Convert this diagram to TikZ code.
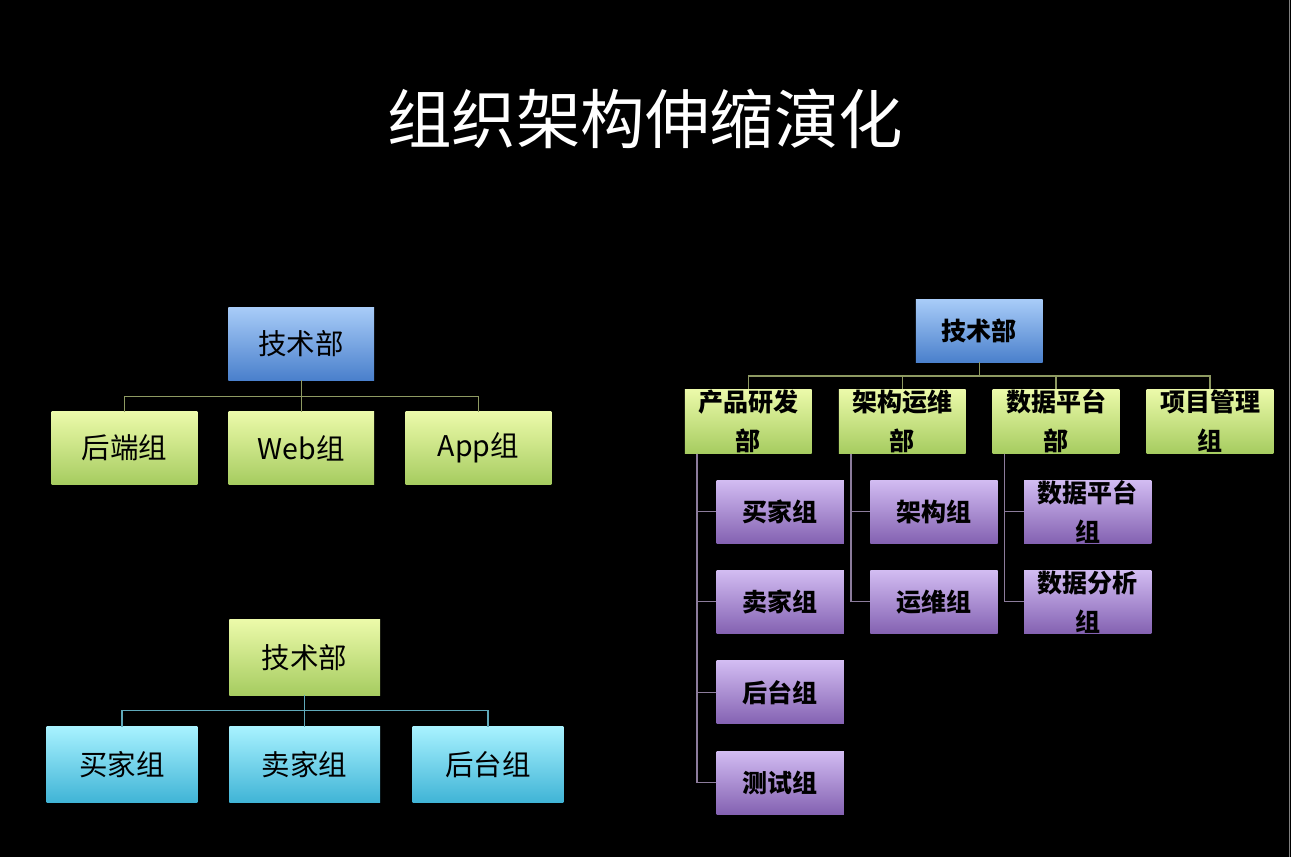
\documentclass[tikz,border=0pt]{standalone}
\usepackage{fontspec}
\setmainfont{Noto Sans CJK SC}
\definecolor{bluetop}{HTML}{A8CCF8}
\definecolor{bluebot}{HTML}{4A80CC}
\definecolor{greentop}{HTML}{ECFAAA}
\definecolor{greenbot}{HTML}{A6CC60}
\definecolor{cyantop}{HTML}{A8F2FF}
\definecolor{cyanbot}{HTML}{40B4D6}
\definecolor{purptop}{HTML}{D2BCF2}
\definecolor{purpbot}{HTML}{8462B2}
\definecolor{oliveline}{HTML}{8E9A62}
\definecolor{tealline}{HTML}{5FA9BA}
\definecolor{purpline}{HTML}{8C7C9C}
\begin{document}
\begin{tikzpicture}[x=1pt,y=-1pt,
  box/.style={rectangle, inner sep=0pt, align=center, text=black},
  blueb/.style={box, top color=bluetop, bottom color=bluebot},
  greenb/.style={box, top color=greentop, bottom color=greenbot},
  cyanb/.style={box, top color=cyantop, bottom color=cyanbot},
  purpb/.style={box, top color=purptop, bottom color=purpbot},
  lsz/.style={font=\fontsize{28.5}{34}\selectfont},
  rsz/.style={font=\bfseries\fontsize{25}{39}\selectfont},
  lbox/.style={minimum width=145.6pt, minimum height=72.6pt},
  llbox/.style={minimum width=150.6pt, minimum height=75.6pt},
  rbox/.style={minimum width=126.7pt, minimum height=64pt},
  pbox/.style={minimum width=127.3pt, minimum height=63pt},
  oline/.style={draw=oliveline, line width=1.3pt},
  tline/.style={draw=tealline, line width=1.3pt},
  pline/.style={draw=purpline, line width=1.3pt}
]
\fill[black] (0,0) rectangle (1291,857);
\useasboundingbox (0,0) rectangle (1291,857);
\draw[draw=gray, line width=1.5pt] (1289.5,0) -- (1289.5,857);

% title
\node[text=white, font=\fontsize{64.5}{70}\selectfont, inner sep=0pt] (title) at (645,119) {组织架构伸缩演化};

% top-left chart
\coordinate (tlbus) at (0,396.7);
\node[blueb, lsz, lbox] (tl0) at (301.2,343.7) {技术部};
\node[greenb, lsz, lbox] (tl1) at (124.5,448) {后端组};
\node[greenb, lsz, lbox] (tl2) at (301.3,448) {Web组};
\node[greenb, lsz, lbox] (tl3) at (478.5,448) {App组};
\foreach \c in {tl1,tl2,tl3}
  \draw[oline] (tl0.south) -- (tl0.south |- tlbus) -| (\c.north);

% bottom-left chart
\coordinate (blbus) at (0,710.7);
\node[greenb, lsz, llbox] (bl0) at (304.7,657.2) {技术部};
\node[cyanb, lsz, llbox] (bl1) at (122,764.5) {买家组};
\node[cyanb, lsz, llbox] (bl2) at (304.7,764.5) {卖家组};
\node[cyanb, lsz, llbox] (bl3) at (488,764.5) {后台组};
\foreach \c in {bl1,bl2,bl3}
  \draw[tline] (bl0.south) -- (bl0.south |- blbus) -| (\c.north);

% right chart
\coordinate (rbus) at (0,376);
\node[blueb, rsz, minimum width=126.7pt, minimum height=62.7pt] (r0) at (979.3,330.7) {技术部};
\node[greenb, rsz, rbox] (r1) at (748.3,421.3) {产品研发\\部};
\node[greenb, rsz, rbox] (r2) at (902.3,421.3) {架构运维\\部};
\node[greenb, rsz, rbox] (r3) at (1056,421.3) {数据平台\\部};
\node[greenb, rsz, rbox] (r4) at (1210,421.3) {项目管理\\组};
\foreach \c in {r1,r2,r3,r4}
  \draw[oline] (r0.south) -- (r0.south |- rbus) -| (\c.north);

\node[purpb, rsz, pbox] (p11) at (780.3,511.5) {买家组};
\node[purpb, rsz, pbox] (p12) at (780.3,601.8) {卖家组};
\node[purpb, rsz, pbox] (p13) at (780.3,692.3) {后台组};
\node[purpb, rsz, pbox] (p14) at (780.3,782.5) {测试组};
\node[purpb, rsz, pbox] (p21) at (934,511.5) {架构组};
\node[purpb, rsz, pbox] (p22) at (934,601.8) {运维组};
\node[purpb, rsz, pbox] (p31) at (1087.8,511.5) {数据平台\\组};
\node[purpb, rsz, pbox] (p32) at (1087.8,601.8) {数据分析\\组};
\foreach \c in {p11,p12,p13,p14}
  \draw[pline] ([xshift=12.3pt]r1.south west) |- (\c.west);
\foreach \c in {p21,p22}
  \draw[pline] ([xshift=12.3pt]r2.south west) |- (\c.west);
\foreach \c in {p31,p32}
  \draw[pline] ([xshift=12.3pt]r3.south west) |- (\c.west);
\end{tikzpicture}
\end{document}
